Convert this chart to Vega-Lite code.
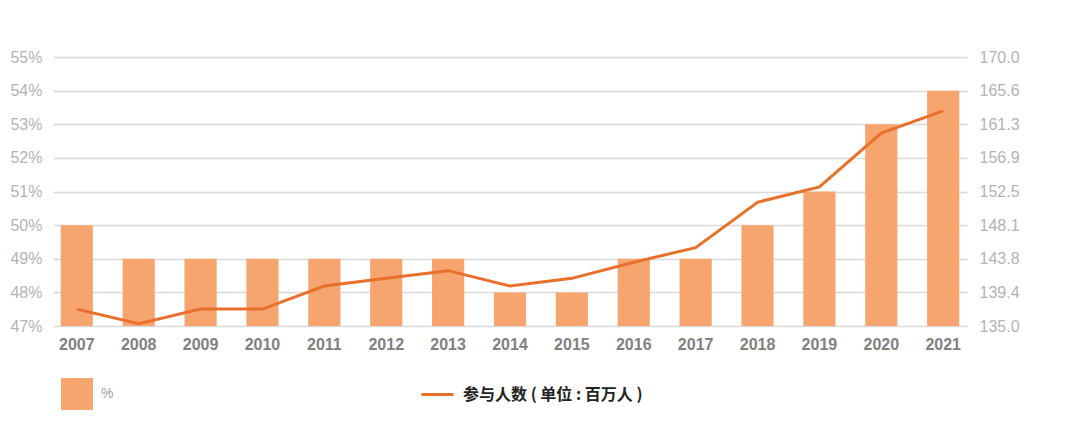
{
  "$schema": "https://vega.github.io/schema/vega-lite/v6.json",
  "autosize": {"type": "none"},
  "padding": {"left": 53, "top": 57, "right": 98, "bottom": 95},
  "width": 914,
  "height": 269,
  "background": "white",
  "data": {
    "values": [
      {"year": "2007", "pct": 50, "people": 137.2},
      {"year": "2008", "pct": 49, "people": 135.3},
      {"year": "2009", "pct": 49, "people": 137.2},
      {"year": "2010", "pct": 49, "people": 137.2},
      {"year": "2011", "pct": 49, "people": 140.2},
      {"year": "2012", "pct": 49, "people": 141.2},
      {"year": "2013", "pct": 49, "people": 142.2},
      {"year": "2014", "pct": 48, "people": 140.2},
      {"year": "2015", "pct": 48, "people": 141.2},
      {"year": "2016", "pct": 49, "people": 143.3},
      {"year": "2017", "pct": 49, "people": 145.2},
      {"year": "2018", "pct": 50, "people": 151.1},
      {"year": "2019", "pct": 51, "people": 153.1},
      {"year": "2020", "pct": 53, "people": 160.1},
      {"year": "2021", "pct": 54, "people": 163.0}
    ]
  },
  "encoding": {
    "x": {
      "field": "year",
      "type": "ordinal",
      "title": null,
      "scale": {"paddingInner": 0.48, "paddingOuter": 0.125},
      "axis": {
        "domain": false,
        "ticks": false,
        "labelAngle": 0,
        "labelFont": "Liberation Sans",
        "labelFontSize": 16,
        "labelFontWeight": "bold",
        "labelColor": "#808080",
        "labelPadding": 10
      }
    }
  },
  "layer": [
    {
      "mark": {"type": "bar", "clip": true},
      "encoding": {
        "y": {
          "field": "pct",
          "type": "quantitative",
          "title": null,
          "scale": {"domain": [47, 55], "zero": false, "nice": false},
          "axis": {
            "orient": "left",
            "values": [47, 48, 49, 50, 51, 52, 53, 54, 55],
            "labelExpr": "datum.value + '%'",
            "domain": false,
            "ticks": false,
            "grid": true,
            "gridColor": "#d9d9d9",
            "gridWidth": 1.5,
            "labelFont": "Liberation Sans",
            "labelFontSize": 16,
            "labelColor": "#b3b3b3",
            "labelPadding": 11
          }
        },
        "fill": {
          "datum": "%",
          "scale": {"range": ["#f7a56f"]},
          "legend": {
            "orient": "none",
            "legendX": 8,
            "legendY": 321,
            "padding": 0,
            "symbolType": "square",
            "symbolSize": 1024,
            "symbolStrokeWidth": 0,
            "symbolOpacity": 1,
            "labelFont": "Liberation Sans",
            "labelFontSize": 14,
            "labelColor": "#a0a0a0",
            "labelOffset": 8,
            "title": null
          }
        }
      }
    },
    {
      "mark": {"type": "line", "strokeWidth": 3},
      "encoding": {
        "y": {
          "field": "people",
          "type": "quantitative",
          "title": null,
          "scale": {"domain": [135, 170], "zero": false, "nice": false},
          "axis": {
            "orient": "right",
            "values": [135, 139.375, 143.75, 148.125, 152.5, 156.875, 161.25, 165.625, 170],
            "format": ".1f",
            "domain": false,
            "ticks": false,
            "grid": false,
            "labelFont": "Liberation Sans",
            "labelFontSize": 16,
            "labelColor": "#b3b3b3",
            "labelPadding": 12
          }
        },
        "stroke": {
          "datum": "参与人数 ( 单位 : 百万人 )",
          "scale": {"range": ["#e8702a"]},
          "legend": {
            "orient": "none",
            "legendX": 367,
            "legendY": 320,
            "padding": 0,
            "symbolType": "stroke",
            "symbolSize": 1024,
            "symbolStrokeWidth": 3,
            "labelFont": "Noto Sans CJK SC",
            "labelFontSize": 16,
            "labelFontWeight": "bold",
            "labelColor": "#222222",
            "labelOffset": 8,
            "labelLimit": 400,
            "title": null
          }
        }
      }
    }
  ],
  "resolve": {"scale": {"y": "independent"}},
  "config": {"view": {"stroke": null}}
}
